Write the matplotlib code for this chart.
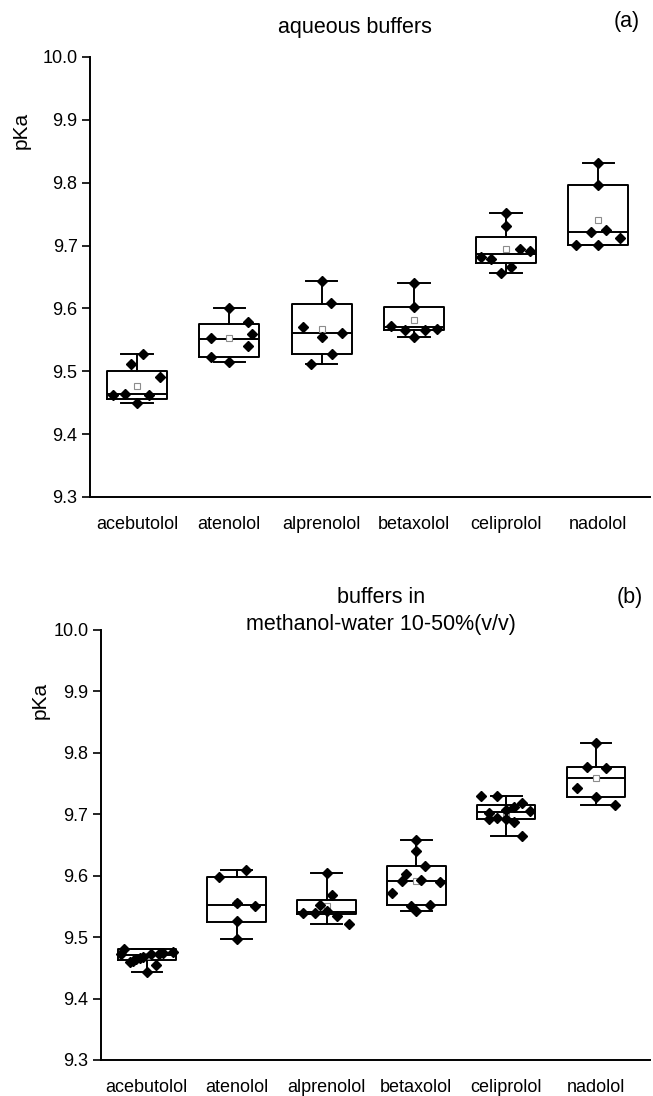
import matplotlib
matplotlib.use("Agg")
import matplotlib.pyplot as plt

plt.rcParams["font.family"] = ["Liberation Sans", "DejaVu Sans"]

drugs = ["acebutolol", "atenolol", "alprenolol", "betaxolol", "celiprolol", "nadolol"]

a_vals = [
    [9.528, 9.511, 9.491, 9.464, 9.462, 9.462, 9.450],
    [9.600, 9.578, 9.560, 9.553, 9.541, 9.523, 9.515],
    [9.643, 9.609, 9.571, 9.561, 9.554, 9.527, 9.511],
    [9.640, 9.602, 9.572, 9.568, 9.566, 9.566, 9.555],
    [9.752, 9.731, 9.695, 9.692, 9.682, 9.678, 9.666, 9.657],
    [9.831, 9.797, 9.725, 9.722, 9.712, 9.701, 9.701],
]
a_jit = [
    [0.065, -0.065, 0.25, -0.13, -0.26, 0.13, 0.0],
    [0.0, 0.2, 0.25, -0.2, 0.2, -0.2, 0.0],
    [0.0, 0.1, -0.2, 0.22, 0.0, 0.11, -0.11],
    [0.0, 0.0, -0.25, 0.25, 0.12, -0.1, 0.0],
    [0.0, 0.0, 0.15, 0.26, -0.27, -0.16, 0.05, -0.05],
    [0.0, 0.0, 0.08, -0.08, 0.24, -0.24, 0.0],
]
a_q1 = [9.456, 9.523, 9.528, 9.566, 9.672, 9.701]
a_med = [9.464, 9.552, 9.561, 9.571, 9.686, 9.722]
a_q3 = [9.501, 9.576, 9.607, 9.602, 9.713, 9.797]
a_lo = [9.449, 9.515, 9.511, 9.555, 9.657, 9.701]
a_hi = [9.528, 9.600, 9.643, 9.640, 9.752, 9.831]
a_mean = [9.477, 9.553, 9.567, 9.582, 9.694, 9.741]

# (b) buffers in methanol-water 10-50% (v/v)
b_vals = [
    [9.481, 9.472, 9.459, 9.461, 9.464, 9.466, 9.468, 9.473, 9.473, 9.474, 9.476, 9.455, 9.443],
    [9.609, 9.598, 9.555, 9.550, 9.527, 9.497],
    [9.605, 9.569, 9.553, 9.542, 9.539, 9.539, 9.534, 9.521],
    [9.658, 9.640, 9.616, 9.602, 9.593, 9.591, 9.590, 9.572, 9.552, 9.551, 9.542],
    [9.730, 9.730, 9.718, 9.712, 9.707, 9.706, 9.702, 9.694, 9.692, 9.692, 9.687, 9.664],
    [9.816, 9.777, 9.776, 9.743, 9.728, 9.715],
]
b_jit = [
    [-0.25, -0.29, -0.19, -0.15, -0.12, -0.08, -0.04, 0.05, 0.13, 0.18, 0.29, 0.1, 0.0],
    [0.1, -0.2, 0.0, 0.2, 0.0, 0.0],
    [0.0, 0.06, -0.07, 0.0, -0.26, -0.13, 0.12, 0.25],
    [0.0, 0.0, 0.1, -0.11, 0.05, -0.16, 0.26, -0.27, 0.15, -0.06, 0.0],
    [-0.28, -0.1, 0.18, 0.09, 0.0, 0.27, -0.19, -0.1, -0.19, 0.0, 0.09, 0.18],
    [0.0, -0.1, 0.11, -0.21, 0.0, 0.21],
]
b_q1 = [9.462, 9.525, 9.537, 9.552, 9.692, 9.728]
b_med = [9.471, 9.553, 9.541, 9.591, 9.703, 9.759]
b_q3 = [9.480, 9.598, 9.561, 9.616, 9.715, 9.777]
b_lo = [9.443, 9.497, 9.521, 9.542, 9.664, 9.715]
b_hi = [9.481, 9.609, 9.605, 9.658, 9.730, 9.816]
b_mean = [9.470, 9.556, 9.550, 9.591, 9.702, 9.759]

yticks = [9.3, 9.4, 9.5, 9.6, 9.7, 9.8, 9.9, 10.0]


def draw_panel(ax, vals, jit, q1, med, q3, lo, hi, mean, xmax):
    stats = []
    for i in range(len(drugs)):
        stats.append({"q1": q1[i], "med": med[i], "q3": q3[i],
                      "whislo": lo[i], "whishi": hi[i], "mean": mean[i],
                      "fliers": []})
    lw = 1.4
    ax.bxp(stats, positions=range(len(drugs)), widths=0.65, capwidths=0.34,
           showmeans=True, showfliers=False,
           boxprops=dict(color="black", linewidth=lw),
           medianprops=dict(color="black", linewidth=lw),
           whiskerprops=dict(color="black", linewidth=lw),
           capprops=dict(color="black", linewidth=lw),
           meanprops=dict(marker="s", markerfacecolor="white",
                          markeredgecolor="#8c8c8c", markersize=4.5,
                          markeredgewidth=0.8))
    for i in range(len(drugs)):
        xs = [i + j for j in jit[i]]
        ax.plot(xs, vals[i], "D", color="black", markersize=5.5, zorder=5)

    ax.set_xlim(-0.51, xmax)
    ax.set_ylim(9.3, 10.0)
    ax.set_yticks(yticks)
    ax.set_yticklabels([f"{t:.1f}" for t in yticks])
    ax.set_xticks(range(len(drugs)))
    ax.set_xticklabels(drugs)
    ax.spines["top"].set_visible(False)
    ax.spines["right"].set_visible(False)
    ax.spines["left"].set_linewidth(1.4)
    ax.spines["bottom"].set_linewidth(1.4)
    ax.tick_params(axis="y", length=6, width=1.2, labelsize=13, pad=3)
    ax.tick_params(axis="x", length=0, labelsize=13, pad=14)


fig = plt.figure(figsize=(6.53, 10.96), dpi=100)
ax1 = fig.add_axes([90 / 653, 1 - 497 / 1096, 560 / 653, 440 / 1096])
ax2 = fig.add_axes([101 / 653, 1 - 1060 / 1096, 549 / 653, 430 / 1096])

draw_panel(ax1, a_vals, a_jit, a_q1, a_med, a_q3, a_lo, a_hi, a_mean, 5.56)
draw_panel(ax2, b_vals, b_jit, b_q1, b_med, b_q3, b_lo, b_hi, b_mean, 5.6)

ax1.set_ylabel("pKa", fontsize=15)
ax1.yaxis.set_label_coords(-0.106, 0.832)
ax2.set_ylabel("pKa", fontsize=15)
ax2.yaxis.set_label_coords(-0.094, 0.837)

fig.text(355 / 653, 1 - 27 / 1096, "aqueous buffers", fontsize=15.5,
         ha="center", va="center")
fig.text(627 / 653, 1 - 22 / 1096, "(a)", fontsize=15.5, ha="center", va="center")
fig.text(381 / 653, 1 - 611 / 1096, "buffers in\nmethanol-water 10-50%(v/v)",
         fontsize=15.5, ha="center", va="center", linespacing=1.35)
fig.text(630 / 653, 1 - 598 / 1096, "(b)", fontsize=15.5, ha="center", va="center")

fig.savefig("out.png", dpi=100)
